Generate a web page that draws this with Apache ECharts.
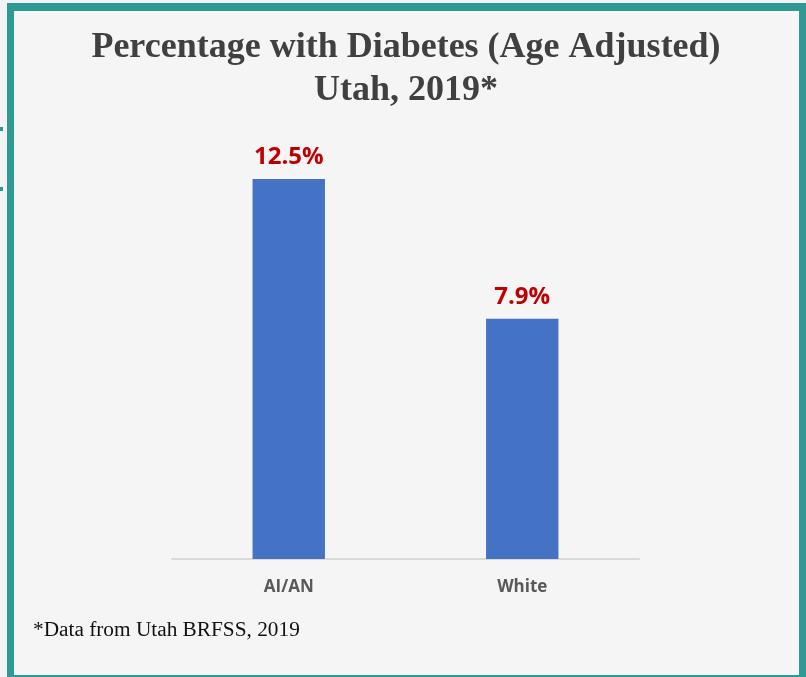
<!DOCTYPE html>
<html>
<head>
<meta charset="utf-8">
<script src="https://cdn.jsdelivr.net/npm/echarts@6/dist/echarts.min.js"></script>
<style>
html,body{margin:0;padding:0;background:#f3f3f3;}
#c{width:806px;height:677px;}
</style>
</head>
<body>
<div id="c"></div>
<script>
const categories = ['AI/AN', 'White'];
const values = [12.5, 7.9];
const titleText = 'Percentage with Diabetes (Age Adjusted)\nUtah, 2019*';
const footnote = '*Data from Utah BRFSS, 2019';

const chart = echarts.init(document.getElementById('c'), null, {renderer: 'canvas'});
chart.setOption({
  backgroundColor: '#f3f3f3',
  animation: false,
  graphic: [
    {type: 'rect', z: -10, silent: true, shape: {x: 7, y: 3, width: 799, height: 674}, style: {fill: '#2e9a93'}},
    {type: 'rect', z: -9, silent: true, shape: {x: 14, y: 11, width: 785, height: 664}, style: {fill: '#f5f5f5'}},
    {type: 'rect', z: -9, silent: true, shape: {x: 0, y: 127, width: 3, height: 4}, style: {fill: '#2e9a93'}},
    {type: 'rect', z: -9, silent: true, shape: {x: 0, y: 187, width: 3, height: 4}, style: {fill: '#2e9a93'}}
  ],
  title: [
    {
      text: titleText,
      left: 401,
      top: 21,
      textAlign: 'center',
      textStyle: {
        fontFamily: '"Liberation Serif", "Times New Roman", serif',
        fontWeight: 'bold',
        fontSize: 36,
        lineHeight: 43,
        color: '#404040'
      }
    },
    {
      text: footnote,
      left: 28,
      top: 615,
      textStyle: {
        fontFamily: '"Liberation Serif", "Times New Roman", serif',
        fontWeight: 'normal',
        fontSize: 21.3,
        color: '#111111'
      }
    }
  ],
  grid: {left: 172, right: 167, top: 133.4, bottom: 118, containLabel: false},
  xAxis: {
    type: 'category',
    data: categories,
    axisLine: {show: true, lineStyle: {color: '#d9d9d9', width: 2}},
    axisTick: {show: false},
    axisLabel: {
      color: '#595959',
      fontFamily: '"Open Sans", sans-serif',
      fontWeight: 'bold',
      fontSize: 17,
      margin: 20
    }
  },
  yAxis: {
    type: 'value',
    min: 0,
    max: 14,
    show: false,
    splitLine: {show: false}
  },
  series: [{
    type: 'bar',
    data: values,
    barWidth: '31%',
    itemStyle: {color: '#4472c4'},
    label: {
      show: true,
      position: 'top',
      distance: 10,
      formatter: p => p.value.toFixed(1) + '%',
      color: '#c00000',
      fontFamily: '"Open Sans", sans-serif',
      fontWeight: 'bold',
      fontSize: 24
    }
  }]
});
</script>
</body>
</html>
